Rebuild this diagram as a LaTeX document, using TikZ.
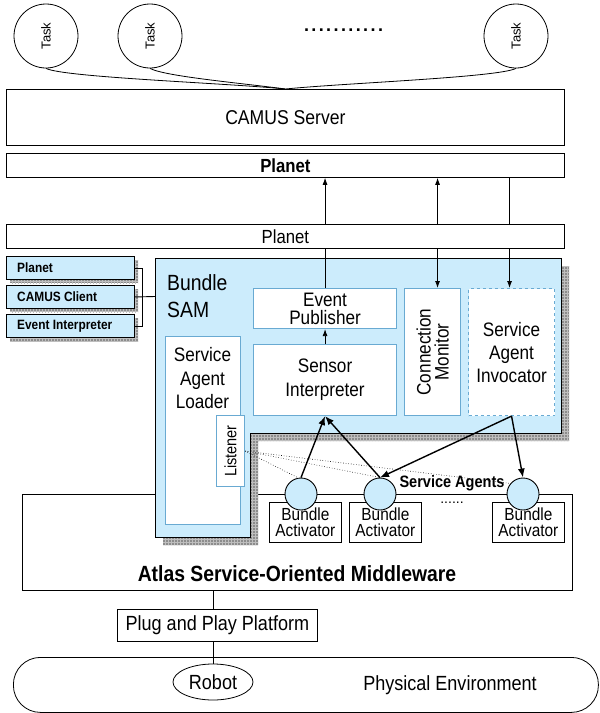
\documentclass[tikz,border=0pt]{standalone}
\usepackage{fontspec}
\setmainfont{Liberation Sans}
\newfontfamily\nar[FakeStretch=0.88]{Liberation Sans}
\usetikzlibrary{arrows.meta,patterns,shapes.geometric}
\definecolor{samblue}{RGB}{204,236,252}
\definecolor{edgeblue}{RGB}{105,170,210}
\definecolor{shad}{RGB}{140,140,140}
\definecolor{shadgrid}{RGB}{190,190,190}
\newcommand\myfs[2]{\fontsize{#1}{#2}\selectfont}
\tikzset{
  plain/.style={draw=black, line width=0.8pt, fill=white, inner sep=0pt, anchor=north west},
  inbox/.style={draw=edgeblue, line width=1.1pt, fill=white, inner sep=0pt, align=center, anchor=north west},
  lbox/.style={draw=black, line width=0.9pt, fill=samblue, inner sep=0pt, anchor=north west, minimum width=128pt, minimum height=23pt},
  lbl/.style={inner sep=0pt, align=center},
  arr/.style={-{Latex[length=7pt,width=5pt]}, line width=0.8pt},
  darr/.style={{Latex[length=7pt,width=5pt]}-{Latex[length=7pt,width=5pt]}, line width=0.8pt},
  barr/.style={-{Latex[length=9pt,width=7pt]}, line width=1.4pt},
  dotl/.style={dotted, line width=0.6pt},
  taskc/.style={draw, circle, minimum size=64pt, inner sep=0pt, line width=0.8pt},
  agent/.style={draw, circle, minimum size=32pt, inner sep=0pt, line width=0.9pt, fill=samblue},
  bact/.style={plain, minimum width=72pt, minimum height=40pt, align=center, font=\nar\myfs{17.5}{16}},
  shgrid/.style={pattern=grid, pattern color=shadgrid},
}
\begin{document}
\begin{tikzpicture}[x=1pt,y=-1pt]
\useasboundingbox (0,0) rectangle (600,713);
% tasks
\node[taskc] (t1) at (46,36) {\rotatebox{90}{\myfs{13}{15}Task}};
\node[taskc] (t2) at (150,36) {\rotatebox{90}{\myfs{13}{15}Task}};
\node[taskc] (t3) at (516,36) {\rotatebox{90}{\myfs{13}{15}Task}};
\node[lbl, font=\bfseries\myfs{18}{20}] (tdots) at (343.5,30) {\makebox[79pt]{.\hfill.\hfill.\hfill.\hfill.\hfill.\hfill.\hfill.\hfill.\hfill.\hfill.}};
% CAMUS server
\node[plain, minimum width=558pt, minimum height=56pt, font=\nar\myfs{20}{24}] (cs) at (6,89) {CAMUS Server};
\draw[line width=0.8pt] (t1.south) .. controls +(18,9) and +(-60,-6) .. (cs.north);
\draw[line width=0.8pt] (t2.south) .. controls +(15,8) and +(-45,-6) .. (cs.north);
\draw[line width=0.8pt] (t3.south) .. controls +(-18,9) and +(60,-6) .. (cs.north);
\node[plain, minimum width=558pt, minimum height=24pt, font=\nar\bfseries\myfs{19}{20}] (p1) at (6,153) {Planet};
% Atlas
\node[plain, minimum width=550pt, minimum height=96pt] (atlas) at (22,494) {};
\node[lbl, font=\nar\bfseries\myfs{22}{24}] (atlast) at (297,574) {Atlas Service-Oriented Middleware};
% SAM
\fill[shad] (163,266) -- (569,266) -- (569,441) -- (258,441) -- (258,545) -- (163,545) -- cycle;
\path[shgrid] (163,266) -- (569,266) -- (569,441) -- (258,441) -- (258,545) -- (163,545) -- cycle;
\draw[fill=samblue, line width=0.8pt] (155,258) -- (561,258) -- (561,433) -- (250,433) -- (250,537) -- (155,537) -- cycle;
\coordinate (samw) at (155,296.5);
\node[lbl, align=left, anchor=west, font=\nar\myfs{22}{27}] (samt) at (167,296.5) {Bundle\\SAM};
\node[inbox, minimum width=143pt, minimum height=40pt, font=\nar\myfs{19.5}{18}] (ep) at (253,288) {Event\\Publisher};
\node[inbox, minimum width=143pt, minimum height=71pt, font=\nar\myfs{19.5}{24}] (si) at (253,344) {Sensor\\Interpreter};
\node[inbox, minimum width=56pt, minimum height=127pt] (cm) at (404,288) {};
\node[lbl, rotate=90, font=\nar\myfs{19.5}{18}] (cmt) at (cm.center) {Connection\\Monitor};
\node[inbox, dashed, minimum width=86pt, minimum height=127pt, font=\nar\myfs{19.5}{23}] (sai) at (468,288) {Service\\Agent\\Invocator};
\node[inbox, minimum width=75pt, minimum height=188pt] (sal) at (165,336) {};
\node[lbl, font=\nar\myfs{19.5}{23.5}] (salt) at (202.5,378.5) {Service\\Agent\\Loader};
\node[inbox, minimum width=28pt, minimum height=71pt] (li) at (216,415) {};
\node[lbl, rotate=90, font=\nar\myfs{16.5}{18}] (lit) at (li.center) {Listener};
\draw[arr] (si.north) -- (ep.south);
% left boxes
\foreach \yy in {256,285,314} {
  \fill[shad] (10,\yy+4) rectangle (138,\yy+27);
  \path[shgrid] (10,\yy+4) rectangle (138,\yy+27);
}
\node[lbox] (lp) at (6,256) {};
\node[lbl, anchor=west, font=\nar\bfseries\myfs{13.5}{15}] (lpt) at ([xshift=11pt]lp.west) {Planet};
\node[lbox] (lc) at (6,285) {};
\node[lbl, anchor=west, font=\nar\bfseries\myfs{13.5}{15}] (lct) at ([xshift=11pt]lc.west) {CAMUS Client};
\node[lbox] (le) at (6,314) {};
\node[lbl, anchor=west, font=\nar\bfseries\myfs{13.5}{15}] (let) at ([xshift=11pt]le.west) {Event Interpreter};
\draw[line width=0.9pt] (lp.east) -- ++(8,0) |- (le.east);
\draw[line width=0.9pt] (lc.east) -- (samw);
% bundle activators and agents
\node[bact] (b1) at (269,502) {Bundle\\Activator};
\node[bact] (b2) at (349,502) {Bundle\\Activator};
\node[bact] (b3) at (492,502) {Bundle\\Activator};
\node[agent] (a1) at (301,494) {};
\node[agent] (a2) at (380,494) {};
\node[agent] (a3) at (523,494) {};
\node[lbl, font=\nar\bfseries\myfs{16.5}{18}] (sat) at (452,483) {Service Agents};
\node[lbl, font=\myfs{14}{16}] (badots) at (452,503) {......};
\draw[dotl] (li.east) -- (a1.100);
\draw[dotl] (li.east) -- (a2.north);
\draw[dotl] (li.east) -- (a3.140);
\draw[barr] (a1.north) -- (si.south);
\draw[barr] (a2.north) -- (si.south);
\draw[barr] (sai.south) -- (a2.north);
\draw[barr] (sai.south) -- (a3.north);
% vertical connectors and Planet
\draw[arr] (ep.north) -- (ep.north |- p1.south);
\draw[darr] ([xshift=5pt]cm.north) -- ([xshift=5pt]cm.north |- p1.south);
\draw[arr] ([xshift=-2pt]sai.north |- p1.south) -- ([xshift=-2pt]sai.north);
\node[plain, minimum width=558pt, minimum height=24pt, font=\nar\myfs{19}{20}] (p2) at (6,224) {Planet};
% bottom
\node[plain, minimum width=200pt, minimum height=32pt, font=\nar\myfs{20.5}{22}] (plug) at (117,609) {Plug and Play Platform};
\node[draw, line width=0.8pt, rounded corners=27pt, minimum width=585pt, minimum height=55pt, anchor=north west, inner sep=0pt] (env) at (13,657) {};
\node[lbl, font=\nar\myfs{20.5}{22}] (envt) at (450,685) {Physical Environment};
\node[draw, ellipse, line width=0.8pt, minimum width=80pt, minimum height=36pt, inner sep=0pt, fill=white, font=\nar\myfs{20.5}{22}] (rob) at (213,682) {Robot};
\draw[line width=0.8pt] (atlas.south -| rob.north) -- (plug.north -| rob.north);
\draw[line width=0.8pt] (plug.south -| rob.north) -- (rob.north);
\end{tikzpicture}
\end{document}
